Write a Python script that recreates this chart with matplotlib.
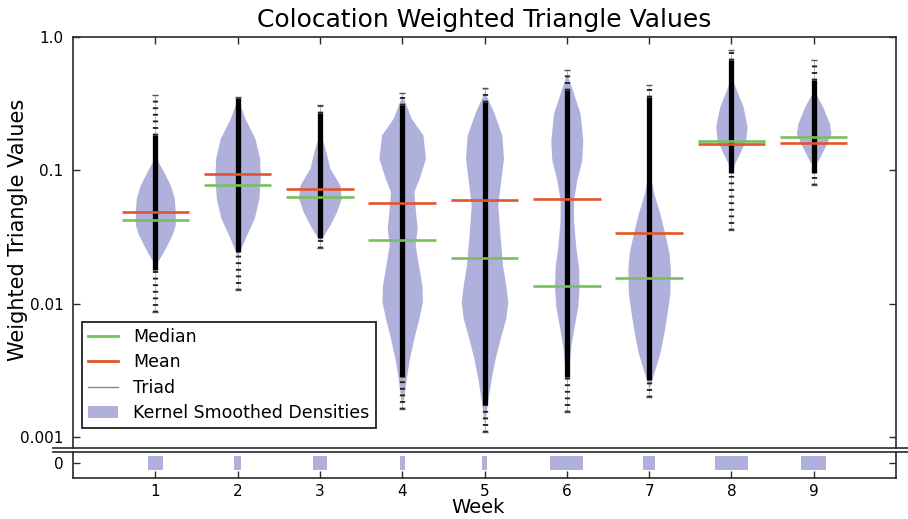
import numpy as np
import matplotlib
matplotlib.use("Agg")
import matplotlib.pyplot as plt
from matplotlib.lines import Line2D
from matplotlib.patches import Patch

# ---------------- data ----------------
weeks = [1, 2, 3, 4, 5, 6, 7, 8, 9]
mean_vals = [0.0489, 0.094, 0.073, 0.0574, 0.060, 0.0608, 0.0339, 0.158, 0.160]
median_vals = [0.0426, 0.0774, 0.063, 0.0303, 0.0221, 0.0136, 0.0156, 0.167, 0.178]

# bean (individual triad values) extents, log10 of value
bean_max = [-0.434, -0.449, -0.509, -0.419, -0.382, -0.247, -0.360, -0.097, -0.172]
bean_hi = [-0.734, -0.460, -0.569, -0.509, -0.487, -0.397, -0.447, -0.172, -0.322]
bean_lo = [-1.745, -1.610, -1.506, -2.550, -2.757, -2.545, -2.570, -1.020, -1.020]
bean_min = [-2.060, -1.895, -1.580, -2.790, -2.960, -2.807, -2.695, -1.446, -1.109]

# kernel smoothed density profiles: log10 levels and relative density
w1_levels = [-0.897, -1.009, -1.109, -1.209, -1.309, -1.408, -1.483, -1.583, -1.658, -1.708]
w1_density = [0, 8.3, 15, 19, 20, 20, 16.7, 10, 4.3, 0]
w2_levels = [-0.459, -0.609, -0.759, -0.909, -1.059, -1.209, -1.358, -1.483, -1.583, -1.646]
w2_density = [0, 7.3, 17.3, 22, 22.7, 21.3, 16.7, 9, 3.3, 0]
w3_levels = [-0.709, -0.859, -0.984, -1.109, -1.209, -1.309, -1.408, -1.483, -1.533]
w3_density = [0, 6, 10, 20, 21.3, 16.7, 10, 4, 0]
w4_levels = [-0.434, -0.609, -0.734, -0.909, -1.059, -1.159, -1.309, -1.433, -1.558,
             -1.683, -1.858, -1.983, -2.107, -2.257, -2.407, -2.557, -2.707, -2.757]
w4_density = [0, 9, 20.7, 23.3, 17, 11.7, 13.3, 15, 13, 15.7, 19.7, 20.3, 16.7, 11.7,
              7.3, 4, 1.5, 0]
w5_levels = [-0.410, -0.560, -0.734, -0.909, -1.109, -1.258, -1.408, -1.558, -1.708,
             -1.858, -1.983, -2.107, -2.257, -2.407, -2.557, -2.732, -2.857, -2.906]
w5_density = [0, 9, 17.3, 19, 15.7, 13.3, 14.7, 16.3, 18, 21.3, 23.3, 21.3, 15.7, 10.7,
              6.7, 3, 1, 0]
w6_levels = [-0.272, -0.422, -0.572, -0.772, -0.921, -1.071, -1.221, -1.371, -1.571,
             -1.721, -1.870, -2.020, -2.170, -2.320, -2.470, -2.570, -2.620]
w6_density = [0, 6.7, 13.3, 16, 15, 10, 6.7, 6.7, 9, 11.7, 12.3, 11, 7.3, 4, 2, 0.5, 0]
w7_levels = [-0.996, -1.171, -1.321, -1.471, -1.621, -1.745, -1.920, -2.070, -2.220,
             -2.370, -2.494, -2.594, -2.644]
w7_density = [0, 4.7, 10.7, 15.7, 20, 21.3, 20.7, 18, 14.7, 10.7, 5.7, 1.5, 0]
w8_levels = [-0.297, -0.397, -0.522, -0.672, -0.772, -0.871, -0.946, -1.021]
w8_density = [0, 5, 11.7, 15.7, 14.3, 8.3, 3.3, 0]
w9_levels = [-0.397, -0.522, -0.647, -0.722, -0.822, -0.921, -0.971]
w9_density = [0, 9, 15.7, 17.3, 11.3, 4.7, 0]

# width of the zero-value bars (share of zero triads)
zero_widths = [0.18, 0.085, 0.17, 0.06, 0.05, 0.40, 0.146, 0.41, 0.30]

y_ticks = [1.0, 0.1, 0.01, 0.001]
y_tick_labels = ["1.0", "0.1", "0.01", "0.001"]

# ---------------- styling ----------------
violin_color = "#afb1dc"
mean_color = "#e2552c"
median_color = "#78c05f"
triad_color = "#888888"
spine_color = "#2a2a2a"
dens_scale = 1 / 82.3      # relative density -> x units
line_half = 0.41

plt.rcParams["font.family"] = ["DejaVu Sans"]

fig = plt.figure(figsize=(9.08, 5.19), dpi=100)
W, H = 908, 519
ax = fig.add_axes([73 / W, 1 - 448 / H, (896 - 73) / W, (448 - 37) / H])
ax2 = fig.add_axes([73 / W, 1 - 478 / H, (896 - 73) / W, (478 - 452) / H])

levels_all = [w1_levels, w2_levels, w3_levels, w4_levels, w5_levels,
              w6_levels, w7_levels, w8_levels, w9_levels]
dens_all = [w1_density, w2_density, w3_density, w4_density, w5_density,
            w6_density, w7_density, w8_density, w9_density]

for i, wk in enumerate(weeks):
    lv = 10 ** np.array(levels_all[i])
    d = np.array(dens_all[i]) * dens_scale
    ax.fill_betweenx(lv, wk - d, wk + d, color=violin_color, lw=0, zorder=1)

    # thin triad guide line
    ax.plot([wk, wk], [10 ** bean_min[i], 10 ** bean_max[i]], color="#b0b0b0",
            lw=0.6, zorder=2)
    # sparse tails of individual values
    ax.plot([wk, wk], [10 ** bean_hi[i], 10 ** bean_max[i]], color="#222222",
            lw=3.8, ls=(0, (0.35, 0.9)), solid_capstyle="butt", zorder=3)
    ax.plot([wk, wk], [10 ** bean_min[i], 10 ** bean_lo[i]], color="#222222",
            lw=3.8, ls=(0, (0.35, 0.9)), solid_capstyle="butt", zorder=3)
    # dense core
    ax.plot([wk, wk], [10 ** bean_lo[i], 10 ** bean_hi[i]], color="black",
            lw=3.8, solid_capstyle="butt", zorder=3)
    # end ticks
    ax.plot([wk], [10 ** bean_max[i]], marker="_", ms=5, mew=1, color="#555555", zorder=3)
    ax.plot([wk], [10 ** bean_min[i]], marker="_", ms=5, mew=1, color="#555555", zorder=3)

    ax.plot([wk - line_half, wk + line_half], [median_vals[i]] * 2, color=median_color,
            lw=1.9, solid_capstyle="butt", zorder=4)
    ax.plot([wk - line_half, wk + line_half], [mean_vals[i]] * 2, color=mean_color,
            lw=1.9, solid_capstyle="butt", zorder=5)

ax.set_yscale("log")
ax.set_ylim(10 ** (-3.079), 1.0)
ax.set_xlim(0, 10)
ax.set_yticks(y_ticks)
ax.set_yticklabels(y_tick_labels)
ax.yaxis.set_minor_locator(matplotlib.ticker.NullLocator())
ax.set_xticks(weeks)
ax.tick_params(axis="x", which="both", direction="in", top=True, bottom=False,
               labelbottom=False, length=5, width=1, color=spine_color)
ax.tick_params(axis="y", which="major", direction="in", left=True, right=True,
               length=5, width=1, color=spine_color, labelsize=11, pad=7)
ax.spines["bottom"].set_visible(False)
for s in ["left", "top", "right"]:
    ax.spines[s].set_color(spine_color)
    ax.spines[s].set_linewidth(1.2)

ax.set_title("Colocation Weighted Triangle Values", fontsize=18, pad=7)
ax.set_ylabel("Weighted Triangle Values", fontsize=15)
ax.yaxis.set_label_coords(-0.055, 0.53)

# zero bars
ax2.bar(weeks, [1.08] * len(weeks), bottom=-0.54, width=zero_widths,
        color=violin_color, lw=0)
ax2.set_xlim(0, 10)
ax2.set_ylim(-15 / 13, 11 / 13)
ax2.set_yticks([0])
ax2.set_yticklabels(["0"])
ax2.set_xticks(weeks)
ax2.set_xticklabels([str(w) for w in weeks])
ax2.tick_params(axis="x", direction="in", top=False, bottom=True, length=5, width=1,
                color=spine_color, labelsize=11, pad=4)
ax2.tick_params(axis="y", direction="in", left=True, right=True, length=5, width=1,
                color=spine_color, labelsize=11, pad=7)
ax2.spines["top"].set_visible(False)
for s in ["left", "bottom", "right"]:
    ax2.spines[s].set_color(spine_color)
    ax2.spines[s].set_linewidth(1.2)
ax2.set_xlabel("Week", fontsize=14)
ax2.xaxis.set_label_coords(0.492, -0.78)

# axis break lines
for yb in (448, 452):
    fig.add_artist(Line2D([53 / W, 1.0], [1 - yb / H] * 2, transform=fig.transFigure,
                          color=spine_color, lw=1.2))

handles = [Line2D([], [], color=median_color, lw=2),
           Line2D([], [], color=mean_color, lw=2),
           Line2D([], [], color=triad_color, lw=1),
           Patch(facecolor=violin_color, edgecolor="none")]
labels = ["Median", "Mean", "Triad", "Kernel Smoothed Densities"]
leg = ax.legend(handles, labels, loc="lower left",
                bbox_to_anchor=((82 - 73) / 823, (448 - 428) / 411),
                borderaxespad=0, fontsize=12.5, frameon=True, fancybox=False,
                edgecolor="#222222", framealpha=1, handlelength=1.7,
                handletextpad=0.9, labelspacing=0.42, borderpad=0.35)
leg.get_frame().set_linewidth(1.3)

fig.savefig("out.png", dpi=100)
